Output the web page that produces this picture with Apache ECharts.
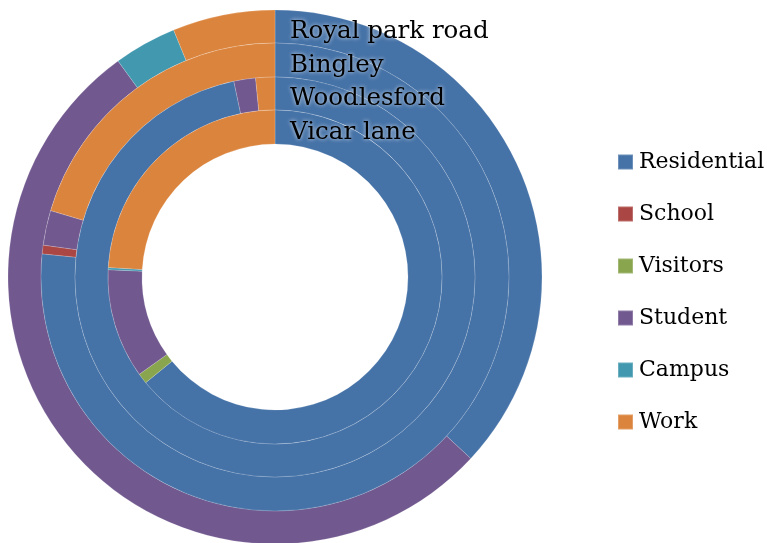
<!DOCTYPE html>
<html><head><meta charset="utf-8">
<script src="https://cdn.jsdelivr.net/npm/echarts@6/dist/echarts.min.js"></script>
<style>html,body{margin:0;padding:0;background:#fff}#c{width:767px;height:543px}</style>
</head><body><div id="c"></div>
<script>
const categories = ['Residential','School','Visitors','Student','Campus','Work'];
const colors = ['#4572A7','#AA4643','#89A54E','#71588F','#4198AF','#DB843D'];
const ringNames = ['Royal park road','Bingley','Woodlesford','Vicar lane'];
const royalParkRoad = [36.9, 0, 0, 53.1, 3.8, 6.2];
const bingley = [76.5, 0.6, 0, 2.4, 0, 20.4];
const woodlesford = [96.7, 0, 0, 1.75, 0, 1.55];
const vicarLane = [64.1, 0, 1.0, 10.6, 0.2, 24.1];

const ringValues = [royalParkRoad, bingley, woodlesford, vicarLane];
const radii = [[234,267],[200,234],[167,200],[133,167]];
const cx = 275, cy = 277;

function buildData(vals){
  return categories.map((c,i)=>({name:c, value:vals[i], itemStyle:{color:colors[i]}}))
    .filter(d=>d.value>0);
}
const series = ringValues.map((vals,k)=>({
  type:'pie', name:ringNames[k], center:[cx,cy], radius:radii[k],
  startAngle:90, clockwise:true, avoidLabelOverlap:false, minAngle:0,
  label:{show:false}, labelLine:{show:false}, emphasis:{disabled:true},
  itemStyle:{borderColor:'rgba(255,255,255,0.22)', borderWidth:0.8},
  data:buildData(vals)
}));

const labelY = [33, 67, 100, 134];
const graphic = ringNames.map((n,k)=>({
  type:'text', left:290, top:labelY[k]-14, z:100, zlevel:1,
  style:{text:n, font:'24.5px "DejaVu Serif"', fill:'#000',
    textShadowColor:'rgba(255,255,255,0.85)', textShadowBlur:4}
}));

const chart = echarts.init(document.getElementById('c'), null, {renderer:'canvas'});
chart.setOption({
  animation:false,
  legend:{orient:'vertical', left:612, top:146, itemWidth:15, itemHeight:15, itemGap:30,
    icon:'rect', data:categories, selectedMode:false,
    textStyle:{fontFamily:'DejaVu Serif', fontSize:22, color:'#000', padding:[0,0,0,1]}},
  graphic: graphic,
  series: series
});
</script></body></html>
